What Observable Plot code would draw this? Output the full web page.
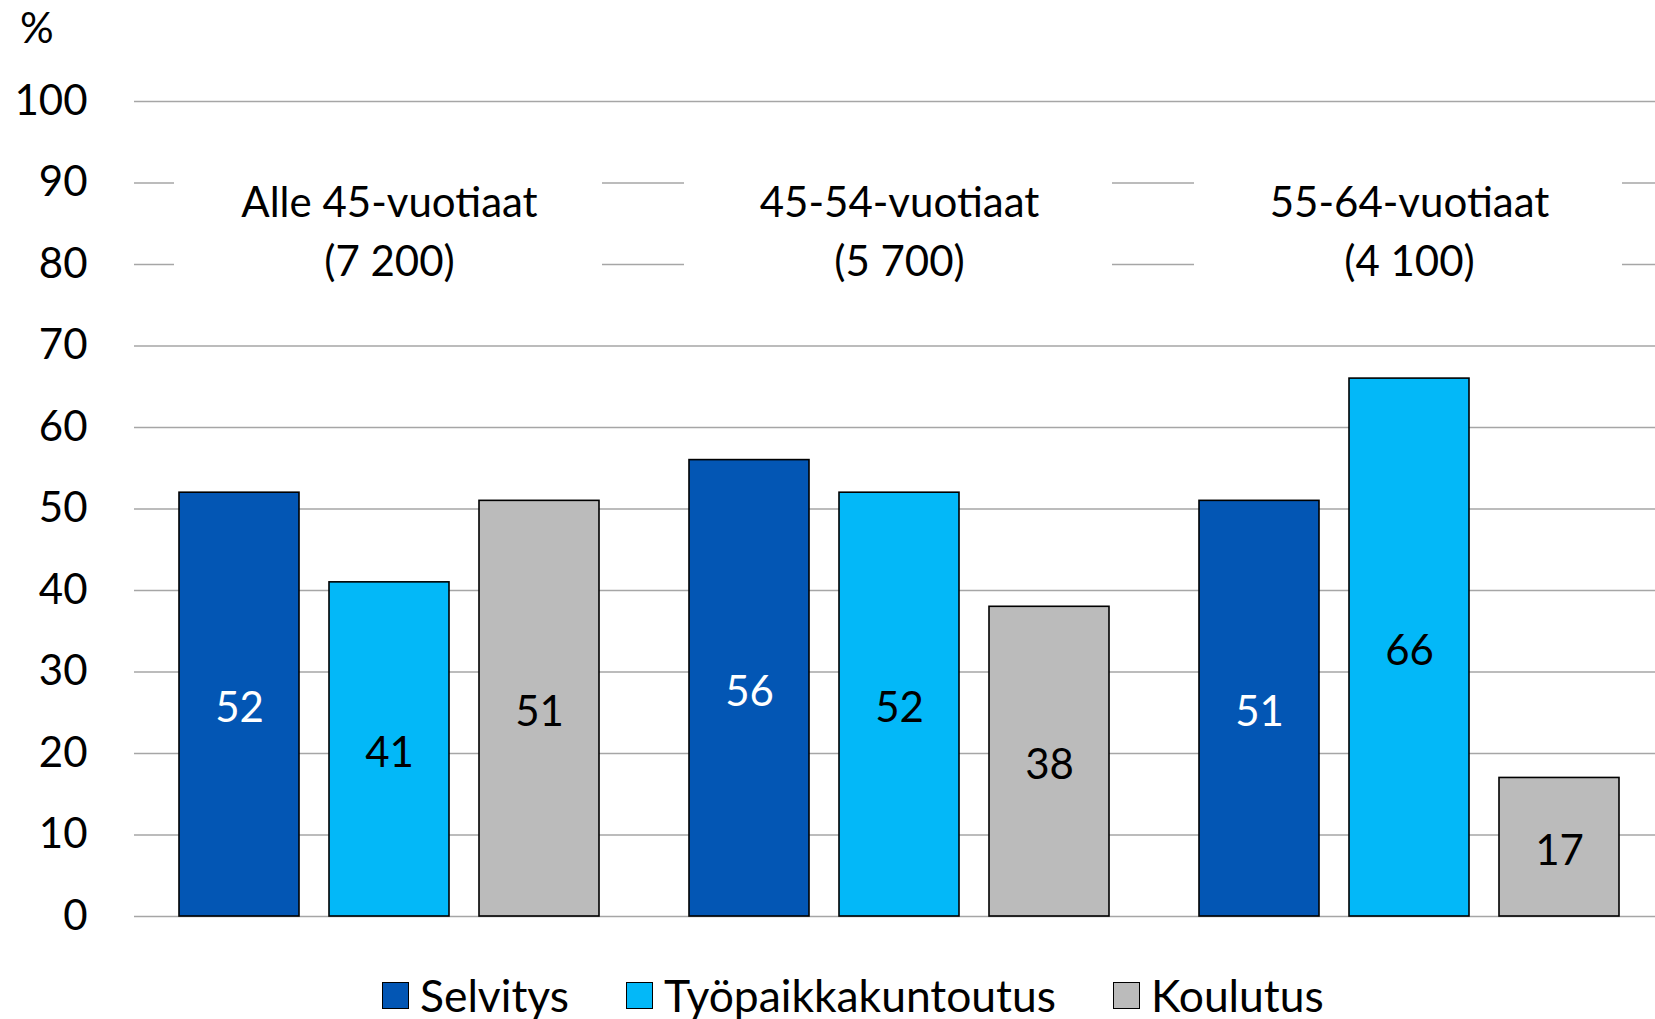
<!DOCTYPE html>
<html>
<head>
<meta charset="utf-8">
<script src="https://cdn.jsdelivr.net/npm/d3@7"></script>
<script src="https://cdn.jsdelivr.net/npm/@observablehq/plot@0.6"></script>
<style>
  html, body { margin: 0; padding: 0; background: #fff; }
  body { width: 1655px; height: 1019px; overflow: hidden; font-family: Lato, "Open Sans", sans-serif; }
  #wrap { position: relative; width: 1655px; }
  #unit { position: absolute; left: 20px; top: 6px; font-size: 42px; line-height: 1; color: #000; }
  #legend { display: flex; align-items: center; padding-left: 382px; margin-top: 23px; font-size: 44.4px; line-height: 1; color: #000; }
  .item { display: flex; align-items: center; margin-right: 57px; }
  .sw { width: 25px; height: 25px; border: 1.5px solid #000; margin-right: 11px; }
</style>
</head>
<body>
<div id="wrap">
  <div id="unit">%</div>
  <div id="chart"></div>
  <div id="legend"></div>
</div>
<script>
// ---- data ----
const groups = ["Alle 45-vuotiaat\n(7 200)", "45-54-vuotiaat\n(5 700)", "55-64-vuotiaat\n(4 100)"];
const series = ["Selvitys", "Työpaikkakuntoutus", "Koulutus"];
const selvitys = [52, 56, 51];
const tyopaikkakuntoutus = [41, 52, 66];
const koulutus = [51, 38, 17];
const yTicks = [0, 10, 20, 30, 40, 50, 60, 70, 80, 90, 100];
const colors = ["#0356b4", "#03b8f8", "#bbbbbb"];
const labelColors = ["#ffffff", "#000000", "#000000"];

const valuesBySeries = [selvitys, tyopaikkakuntoutus, koulutus];
const rows = [];
groups.forEach((g, gi) => {
  series.forEach((s, si) => {
    rows.push({group: g, series: s, value: valuesBySeries[si][gi], labelColor: labelColors[si]});
  });
});

const chart = Plot.plot({
  width: 1655,
  height: 950,
  marginLeft: 133,
  marginRight: 0,
  marginTop: 101,
  marginBottom: 34,
  style: {fontFamily: "Lato, 'Open Sans', sans-serif", fontSize: "42px", color: "#000", background: "#fff"},
  fx: {domain: groups, padding: 0, range: [133, 1664], axis: null},
  x: {domain: series, paddingInner: 0.2, paddingOuter: 0.3, axis: null},
  y: {domain: [0, 100], axis: null},
  color: {domain: series, range: colors},
  marks: [
    Plot.gridY(yTicks, {stroke: "#a6a6a6", strokeOpacity: 1, strokeWidth: 1.6}),
    Plot.axisY(yTicks, {tickSize: 0, tickPadding: 47, fontSize: 42, label: null}),
    // white text box behind each group label (interrupts the grid lines)
    Plot.rect(groups, {fx: d => d, y1: 75, y2: 95, fill: "#fff", insetLeft: 40, insetRight: 42}),
    Plot.text(groups, {
      fx: d => d,
      text: d => d,
      frameAnchor: "top",
      dy: 126,
      lineAnchor: "middle",
      fontSize: 42,
      lineHeight: 1.4,
      fill: "#000"
    }),
    Plot.barY(rows, {fx: "group", x: "series", y: "value", fill: "series", stroke: "#000", strokeWidth: 1.6}),
    Plot.text(rows, {
      fx: "group", x: "series", y: d => d.value / 2,
      text: d => String(d.value),
      fill: d => d.labelColor,
      fontSize: 42,
      dy: 4
    })
  ]
});
document.getElementById("chart").appendChild(chart);

const legend = document.getElementById("legend");
series.forEach((s, i) => {
  const item = document.createElement("div");
  item.className = "item";
  const sw = document.createElement("div");
  sw.className = "sw";
  sw.style.background = colors[i];
  const lab = document.createElement("span");
  lab.textContent = s;
  item.appendChild(sw);
  item.appendChild(lab);
  legend.appendChild(item);
});
</script>
</body>
</html>
